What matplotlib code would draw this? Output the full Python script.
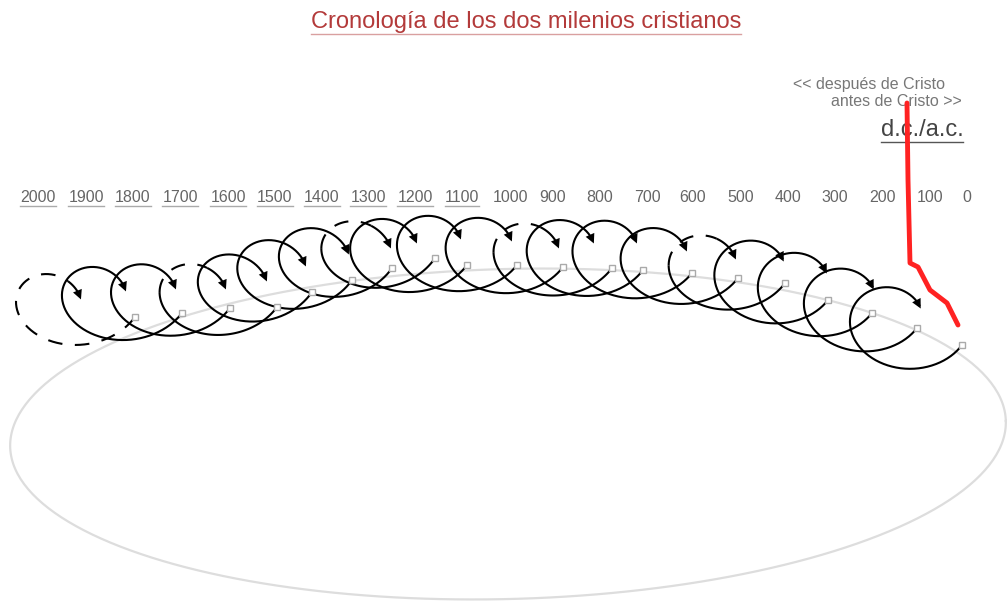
import numpy as np
import matplotlib.pyplot as plt
from matplotlib.lines import Line2D

plt.rcParams['font.family'] = ['Liberation Sans', 'DejaVu Sans']

# year labels along the top (pixel x of each label)
years = [2000, 1900, 1800, 1700, 1600, 1500, 1400, 1300, 1200, 1100, 1000,
         900, 800, 700, 600, 500, 400, 300, 200, 100, 0]
label_x = [38, 86, 133, 180, 228, 275, 322, 368, 415, 462, 510,
           553, 600, 647, 693, 741, 788, 835, 882, 930, 967]

# century points on the timeline, from year 0 to 1900
cent_x = [962, 917, 872, 828, 785, 738, 692, 643, 612, 563, 517,
          467, 435, 392, 352, 312, 277, 230, 182, 135]
cent_y = [345, 328, 313, 300, 283, 278, 273, 270, 268, 267, 265,
          265, 258, 268, 280, 292, 307, 308, 313, 317]
# arrow heads, ending each century loop (100 .. 2000)
arrow_x = [922, 875, 828, 785, 737, 688, 638, 595, 560, 513,
           462, 418, 392, 350, 307, 268, 227, 177, 127, 82]
arrow_y = [307, 288, 272, 260, 258, 250, 242, 242, 247, 240,
           238, 242, 247, 253, 265, 280, 288, 288, 290, 298]
# loops with a dashed top arc, and the fully dashed last loop
half_dashed = [4, 8, 12, 16]
dashed_loops = [19]

# red "d.c./a.c." line
red_x = [907, 908, 910, 918, 930, 947, 958]
red_y = [103, 180, 263, 267, 290, 303, 325]

fig = plt.figure(figsize=(10.08, 6.02), dpi=100)
ax = fig.add_axes([0, 0, 1, 1])
ax.set_xlim(0, 1008)
ax.set_ylim(602, 0)
ax.axis('off')

# big grey ellipse
t = np.linspace(0, 2 * np.pi, 400)
phi = np.radians(-1.5)
ex = 508 + 498 * np.cos(t) * np.cos(phi) - 165 * np.sin(t) * np.sin(phi)
ey = 434 + 498 * np.cos(t) * np.sin(phi) + 165 * np.sin(t) * np.cos(phi)
ax.plot(ex, ey, color='#dddddd', lw=1.6, zorder=1)


def loop(k):
    sx, sy = cent_x[k], cent_y[k]
    ex_, ey_ = arrow_x[k], arrow_y[k] + 4
    cx, cy = ex_ - 18, ey_ + 21
    rx, ry = 48, 41
    th0, th1 = np.radians(25), np.radians(335)
    th = np.linspace(th0, th1, 200)
    s = (th - th0) / (th1 - th0)
    offs = (sx - (cx + rx * np.cos(th0)), sy - (cy + ry * np.sin(th0)))
    offe = (ex_ - (cx + rx * np.cos(th1)), ey_ - (cy + ry * np.sin(th1)))
    x = cx + rx * np.cos(th) + (1 - s) * offs[0] + s * offe[0]
    y = cy + ry * np.sin(th) + (1 - s) * offs[1] + s * offe[1]
    return x, y, np.degrees(th)


dash = (0, (7, 6))
for k in range(len(cent_x)):
    x, y, deg = loop(k)
    x, y, deg = x[:-6], y[:-6], deg[:-6]
    if k in dashed_loops:
        m = deg < 300
        ax.plot(x[m], y[m], color='black', lw=1.5, ls=dash, zorder=3)
        ax.plot(x[~m], y[~m], color='black', lw=1.5, zorder=3)
    elif k in half_dashed:
        a = deg < 190
        b = (deg >= 190) & (deg <= 290)
        c = deg > 290
        ax.plot(x[a], y[a], color='black', lw=1.5, zorder=3)
        ax.plot(x[b], y[b], color='black', lw=1.5, ls=dash, zorder=3)
        ax.plot(x[c], y[c], color='black', lw=1.5, zorder=3)
    else:
        ax.plot(x, y, color='black', lw=1.5, zorder=3)
    xa, ya, _ = loop(k)
    ax.annotate('', xy=(xa[-1], ya[-1]), xytext=(xa[-10], ya[-10]),
                arrowprops=dict(arrowstyle='-|>', color='black', lw=0,
                                mutation_scale=17), zorder=4)

ax.plot(cent_x, cent_y, 's', ms=5, mfc='white', mec='#aaaaaa',
        mew=1, zorder=5)

ax.plot(red_x, red_y, color='#ff2222', lw=3.5, solid_capstyle='round',
        solid_joinstyle='round', zorder=6)

# texts
under = []
title = ax.text(526, 22, 'Cronología de los dos milenios cristianos',
                ha='center', va='center', fontsize=17, color='#b33a3a')
under.append((title, '#d9a0a0'))
ax.text(945, 85, '<< después de Cristo', ha='right', va='center',
        fontsize=11.5, color='#777777')
ax.text(962, 102, 'antes de Cristo >>', ha='right', va='center',
        fontsize=11.5, color='#777777')
dc = ax.text(922, 130, 'd.c./a.c.', ha='center', va='center',
             fontsize=17, color='#444444')
under.append((dc, '#555555'))
for yr, lx in zip(years, label_x):
    tl = ax.text(lx, 197, str(yr), ha='center', va='center',
                 fontsize=11.5, color='#666666')
    if yr >= 1100:
        under.append((tl, '#aaaaaa'))

fig.canvas.draw()
r = fig.canvas.get_renderer()
inv = ax.transData.inverted()
for tx, col in under:
    bb = tx.get_window_extent(r)
    (x0, y0), (x1, y1) = inv.transform([(bb.x0, bb.y0), (bb.x1, bb.y0)])
    ax.add_line(Line2D([x0, x1], [y0 + 1, y1 + 1], color=col, lw=1))

fig.savefig('out.png', dpi=100)
